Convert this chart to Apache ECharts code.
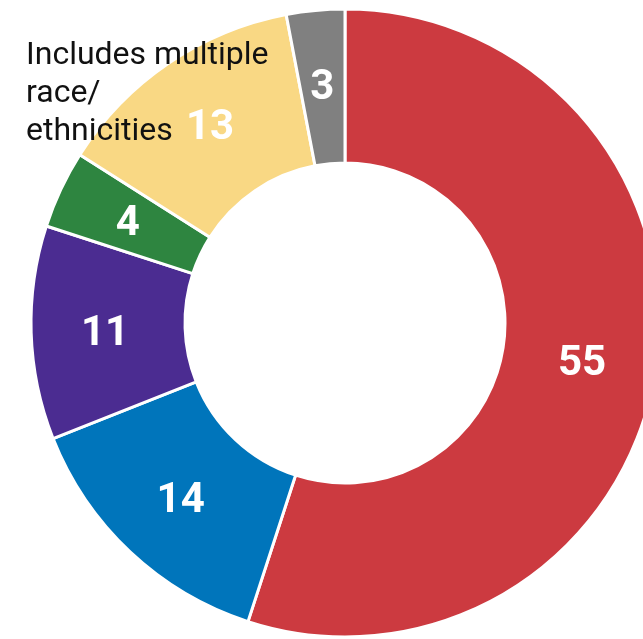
<!DOCTYPE html>
<html><head><meta charset="utf-8">
<script src="https://cdn.jsdelivr.net/npm/echarts@6/dist/echarts.min.js"></script>
<style>html,body{margin:0;padding:0;background:#fff}#c{width:643px;height:639px}</style>
</head><body><div id="c"></div>
<script>
var categories = ['Group A', 'Group B', 'Group C', 'Group D', 'Includes multiple race/ethnicities', 'Other'];
var values = [55, 14, 11, 4, 13, 3];
var colors = ['#CC3A40', '#0075BB', '#4B2C91', '#2E8540', '#F9D884', '#808080'];
var noteText = 'Includes multiple\nrace/\nethnicities';

var chart = echarts.init(document.getElementById('c'));
chart.setOption({
  animation: false,
  graphic: [{
    type: 'text', left: 26, top: 37, z: 10,
    style: { text: noteText, font: '32px Roboto', fill: '#111', lineHeight: 38 }
  }],
  series: [{
    type: 'pie',
    center: [345, 323],
    radius: [160, 314],
    startAngle: 90,
    clockwise: true,
    silent: true,
    itemStyle: { borderColor: '#fff', borderWidth: 3 },
    label: {
      show: true, position: 'inside', formatter: '{c}', offset: [0, 4],
      color: '#fff', fontFamily: 'Roboto', fontWeight: 'bold', fontSize: 42
    },
    labelLine: { show: false },
    data: categories.map(function (n, i) {
      return { name: n, value: values[i], itemStyle: { color: colors[i] } };
    })
  }]
});
</script></body></html>
